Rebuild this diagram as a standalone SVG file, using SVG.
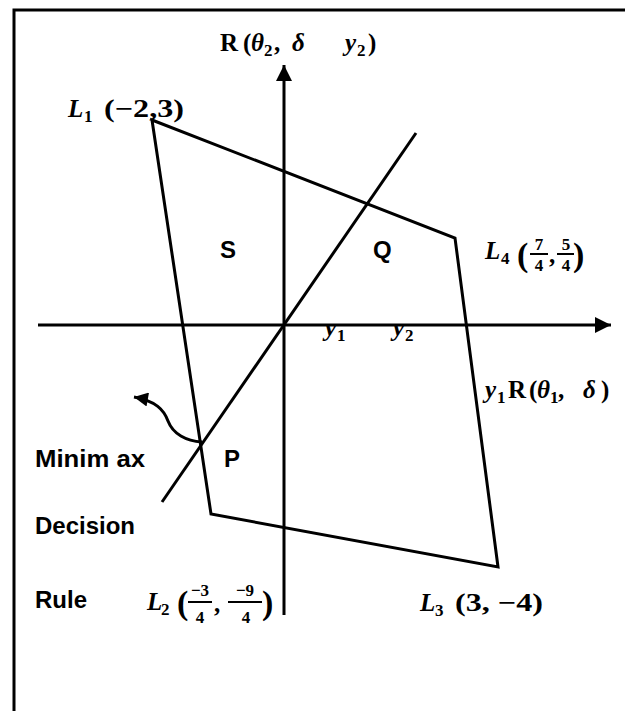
<svg xmlns="http://www.w3.org/2000/svg" width="625" height="711" viewBox="0 0 625 711">
<style>
.ln{stroke:#000;stroke-width:3;fill:none;stroke-linejoin:miter}
.lbl{font-family:"Liberation Sans",Arial,sans-serif;font-weight:bold;font-size:24px;fill:#000}
.m{font-family:"Liberation Serif","DejaVu Serif",serif;font-weight:bold;font-size:25px;fill:#000}
.i{font-style:italic}
.s{font-size:17px}
.f{font-size:17px}
.p{font-size:34px}
.bar{stroke:#000;stroke-width:2}
</style>
<defs>
<marker id="ah" viewBox="0 0 10 10" refX="10" refY="5" markerUnits="userSpaceOnUse" markerWidth="18" markerHeight="16" orient="auto">
<path d="M0,0 L10,5 L0,10 z" fill="#000"/>
</marker>
<marker id="ahs" viewBox="0 0 10 10" refX="10" refY="5" markerUnits="userSpaceOnUse" markerWidth="16" markerHeight="14" orient="auto">
<path d="M0,0 L10,5 L0,10 z" fill="#000"/>
</marker>
</defs>
<rect id="frame" x="14" y="10" width="700" height="800" fill="#fff" stroke="#000" stroke-width="3"/>
<g id="connectors">
<line id="y-axis" class="ln" x1="284" y1="615" x2="284" y2="65" marker-end="url(#ah)"/>
<line id="x-axis" class="ln" x1="38" y1="325" x2="611" y2="325" marker-end="url(#ah)"/>
<line id="minimax-line" class="ln" x1="162" y1="502" x2="416" y2="133"/>
<path id="pointer" class="ln" d="M202,442 C186,441 173,434 168,421 C164,410 156,401 134,397" marker-end="url(#ahs)"/>
</g>
<g id="risk-set">
<polygon class="ln" points="152,120 455,238 498,567 211,514"/>
</g>
<g id="label-top">
<text class="m" y="51"><tspan x="220">R</tspan><tspan x="243">(</tspan><tspan x="251" class="i">θ</tspan><tspan x="264" dy="5" class="s">2</tspan><tspan x="274" dy="-5">,</tspan><tspan x="292" class="i">δ</tspan><tspan x="345" class="i">y</tspan><tspan x="357" dy="5" class="s">2</tspan><tspan x="368" dy="-5">)</tspan></text>
</g>
<g id="node-L1">
<text class="m" y="117"><tspan x="68" class="i">L</tspan><tspan x="84" dy="5" class="s">1</tspan></text>
<text class="m" x="104" y="117" textLength="80" lengthAdjust="spacingAndGlyphs">(−2,3)</text>
</g>
<g id="node-L4">
<text class="m" y="259"><tspan x="485" class="i">L</tspan><tspan x="501" dy="5" class="s">4</tspan></text>
<text class="m p" x="517" y="266">(</text>
<text class="m f" x="539" y="250" text-anchor="middle">7</text>
<line class="bar" x1="530" y1="254" x2="548" y2="254"/>
<text class="m f" x="539" y="271" text-anchor="middle">4</text>
<text class="m" x="549" y="263">,</text>
<text class="m f" x="566" y="250" text-anchor="middle">5</text>
<line class="bar" x1="557" y1="254" x2="574" y2="254"/>
<text class="m f" x="566" y="271" text-anchor="middle">4</text>
<text class="m p" x="573" y="266">)</text>
</g>
<g id="node-L3">
<text class="m" y="611"><tspan x="420" class="i">L</tspan><tspan x="435" dy="5" class="s">3</tspan></text>
<text class="m" x="455" y="611" textLength="88" lengthAdjust="spacingAndGlyphs">(3, −4)</text>
</g>
<g id="node-L2">
<text class="m" y="610"><tspan x="147" class="i">L</tspan><tspan x="161" dy="5" class="s">2</tspan></text>
<text class="m p" x="177" y="614">(</text>
<text class="m f" x="200" y="596" text-anchor="middle">−3</text>
<line class="bar" x1="188" y1="602" x2="212" y2="602"/>
<text class="m f" x="200" y="623" text-anchor="middle">4</text>
<text class="m" x="214" y="612">,</text>
<text class="m f" x="245" y="596" text-anchor="middle">−9</text>
<line class="bar" x1="228" y1="602" x2="262" y2="602"/>
<text class="m f" x="246" y="623" text-anchor="middle">4</text>
<text class="m p" x="262" y="614">)</text>
</g>
<g id="label-y1R">
<text class="m" y="398"><tspan x="485" class="i">y</tspan><tspan x="497" dy="5" class="s">1</tspan><tspan x="508" dy="-5">R</tspan><tspan x="529">(</tspan><tspan x="537" class="i">θ</tspan><tspan x="550" dy="5" class="s">1</tspan><tspan x="558" dy="-5">,</tspan><tspan x="583" class="i">δ</tspan><tspan x="601">)</tspan></text>
</g>
<g id="axis-labels">
<text class="m" y="336"><tspan x="325" class="i">y</tspan><tspan x="337" dy="5" class="s">1</tspan></text>
<text class="m" y="336"><tspan x="393" class="i">y</tspan><tspan x="405" dy="5" class="s">2</tspan></text>
</g>
<g id="regions">
<text class="lbl" x="220" y="258">S</text>
<text class="lbl" x="373" y="258">Q</text>
<text class="lbl" x="224" y="467">P</text>
</g>
<g id="legend">
<text class="lbl" x="35" y="467" textLength="110" lengthAdjust="spacingAndGlyphs">Minim ax</text>
<text class="lbl" x="35" y="534" textLength="100" lengthAdjust="spacingAndGlyphs">Decision</text>
<text class="lbl" x="35" y="608" textLength="52" lengthAdjust="spacingAndGlyphs">Rule</text>
</g>
</svg>
